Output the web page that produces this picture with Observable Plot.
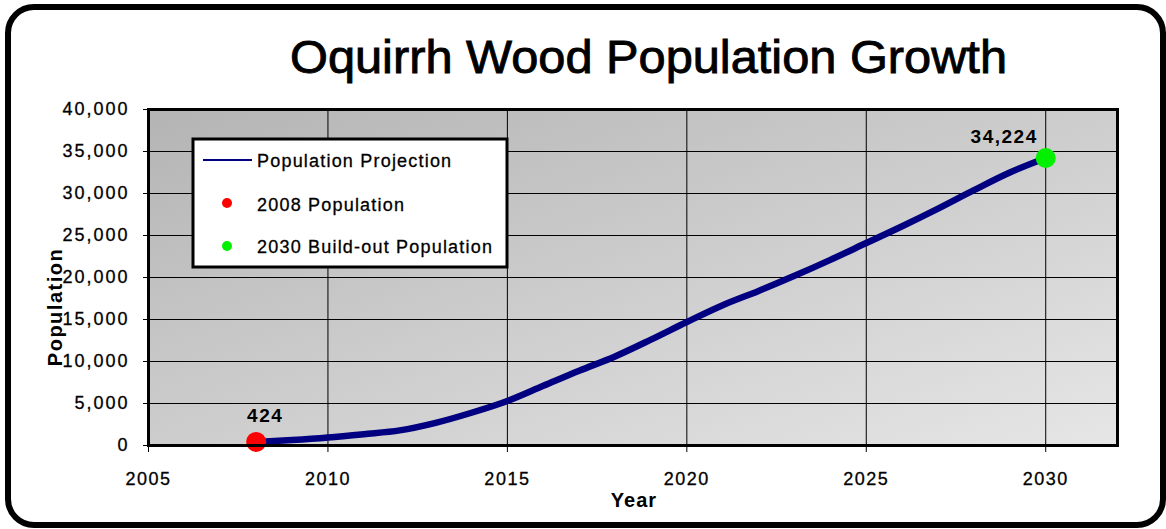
<!DOCTYPE html>
<html><head><meta charset="utf-8">
<script src="https://cdn.jsdelivr.net/npm/d3@7"></script>
<script src="https://cdn.jsdelivr.net/npm/@observablehq/plot@0.6"></script>
<style>
body{margin:0;background:#fff;}
#chart{position:relative;width:1166px;height:529px;}
</style>
</head><body><div id="chart"></div>
<script>
// ---- data ----
const years = [2008,2009,2010,2011,2012,2013,2014,2015,2016,2017,2018,2019,2020,2021,2022,2023,2024,2025,2026,2027,2028,2029,2030];
const population = [424,650,950,1350,1800,2700,3900,5300,7100,8900,10600,12600,14700,16700,18400,20200,22100,24100,26100,28200,30400,32500,34224];
const xTicks = [2005,2010,2015,2020,2025,2030];
const xGrid = [2010,2015,2020,2025,2030];
const yTicks = [0,5000,10000,15000,20000,25000,30000,35000,40000];
const yGrid = [5000,10000,15000,20000,25000,30000,35000];
const markerYears = [2008,2030];
const markerValues = [424,34224];
const markerLabels = ["424","34,224"];
const markerColors = ["#ff0000","#00f000"];
const legendLabels = ["Population Projection","2008 Population","2030 Build-out Population"];
const chartTitle = "Oquirrh Wood Population Growth";
const xTitle = "Year";
const yTitle = "Population";

const data = years.map((year,i)=>({year, value: population[i]}));
const markers = markerYears.map((year,i)=>({year, value: markerValues[i], label: markerLabels[i], color: markerColors[i]}));

const font = "'Liberation Sans', Arial, sans-serif";

const plot = Plot.plot({
  width:1166, height:529,
  marginLeft:148, marginRight:49, marginTop:109, marginBottom:84,
  style:{fontFamily:font, background:"transparent", color:"#000", overflow:"visible"},
  x:{domain:[2005,2032]},
  y:{domain:[0,40000]},
  color:{type:"identity"},
  marks:[
    Plot.frame({fill:"url(#plotBg)", stroke:null}),
    Plot.gridX(xGrid, {stroke:"#000", strokeOpacity:1, strokeWidth:1}),
    Plot.gridY(yGrid, {stroke:"#000", strokeOpacity:1, strokeWidth:1}),
    Plot.axisX(xTicks, {tickSize:7, tickPadding:20, fontSize:18, tickFormat:d=>String(d), label:null, stroke:"#000"}),
    Plot.axisY(yTicks, {tickSize:5, tickPadding:14, fontSize:18, tickFormat:d3.format(","), label:null, stroke:"#000"}),
    Plot.line(data, {x:"year", y:"value", stroke:"#000080", strokeWidth:6.5, curve:"monotone-x"}),
    Plot.dot(markers, {x:"year", y:"value", r:10, fill:"color", stroke:null}),
    Plot.text(markers.filter(d=>d.year===2008), {x:"year", y:"value", text:"label", dx:9, dy:-26, fontSize:19, fontWeight:"bold", fill:"#000"}),
    Plot.text(markers.filter(d=>d.year===2030), {x:"year", y:"value", text:"label", textAnchor:"end", dx:-8, dy:-21, fontSize:19, fontWeight:"bold", fill:"#000"}),
    Plot.frame({stroke:"#000", strokeWidth:3})
  ]
});

const svg = d3.select(plot);
// gradient background
const defs = svg.insert("defs", ":first-child");
const grad = defs.append("linearGradient").attr("id","plotBg")
  .attr("x1","0").attr("y1","0").attr("x2","1").attr("y2","1");
grad.append("stop").attr("offset","0%").attr("stop-color","#b4b4b4");
grad.append("stop").attr("offset","100%").attr("stop-color","#e6e6e6");

svg.selectAll('g[aria-label="x-axis tick label"] text').attr("letter-spacing","1.5px").attr("stroke","#000").attr("stroke-width",0.3);
svg.selectAll('g[aria-label="y-axis tick label"] text').attr("letter-spacing","2px").attr("stroke","#000").attr("stroke-width",0.3);
svg.selectAll('g[aria-label="text"] text').attr("letter-spacing","1.5px");

// outer rounded frame
svg.append("rect").attr("x",8).attr("y",7).attr("width",1155).attr("height",518)
  .attr("rx",26).attr("ry",26).attr("fill","none").attr("stroke","#000").attr("stroke-width",6);

// title
svg.append("text").attr("x",290).attr("y",73).attr("font-size",47).attr("text-anchor","start")
  .attr("font-family",font).attr("fill","#000").attr("stroke","#000").attr("stroke-width",0.9)
  .attr("textLength",717).attr("lengthAdjust","spacingAndGlyphs").text(chartTitle);

// axis titles
svg.append("text").attr("transform","translate(62,307) rotate(-90)").attr("text-anchor","middle")
  .attr("font-size",20).attr("font-weight","bold").attr("font-family",font).attr("letter-spacing","1.5px").text(yTitle);
svg.append("text").attr("x",634).attr("y",507).attr("text-anchor","middle")
  .attr("font-size",20).attr("font-weight","bold").attr("font-family",font).attr("letter-spacing","1px").text(xTitle);

// legend
const lg = svg.append("g").attr("font-family",font).attr("font-size",18).attr("text-anchor","start");
lg.append("rect").attr("x",193).attr("y",139).attr("width",314).attr("height",128)
  .attr("fill","#fff").attr("stroke","#000").attr("stroke-width",3);
lg.append("line").attr("x1",203).attr("x2",252).attr("y1",160).attr("y2",160).attr("stroke","#000080").attr("stroke-width",2);
lg.append("circle").attr("cx",227).attr("cy",203).attr("r",5).attr("fill",markerColors[0]);
lg.append("circle").attr("cx",227).attr("cy",246).attr("r",5).attr("fill",markerColors[1]);
[167,211,253].forEach((yy,i)=>{
  lg.append("text").attr("x",257).attr("y",yy).attr("text-anchor","start").attr("letter-spacing","1.2px")
    .attr("stroke","#000").attr("stroke-width",0.3).attr("fill","#000").text(legendLabels[i]);
});

document.getElementById("chart").appendChild(plot);
</script>
</body></html>
